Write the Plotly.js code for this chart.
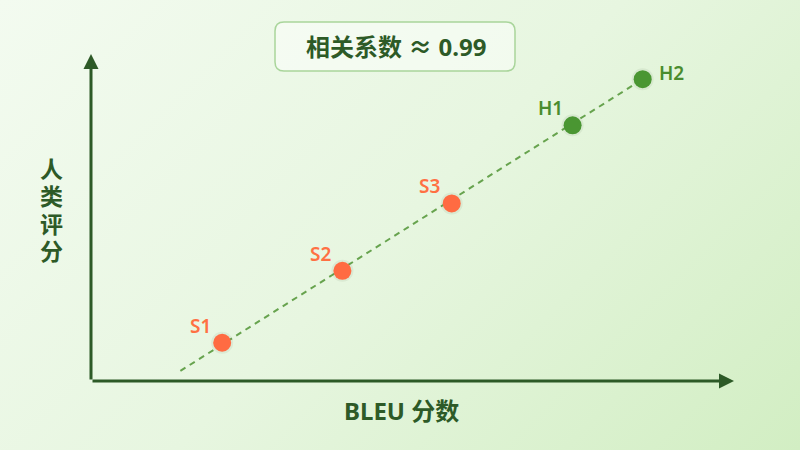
<!DOCTYPE html>
<html>
<head>
<meta charset="utf-8">
<script src="https://cdn.plot.ly/plotly-3.0.1.min.js"></script>
<style>
  html, body { margin: 0; padding: 0; }
  body {
    width: 800px; height: 450px; overflow: hidden;
    background: linear-gradient(135deg, #f3fbf0 0%, #e7f6e0 50%, #d2eec3 100%);
  }
  #chart { width: 800px; height: 450px; }
</style>
</head>
<body>
<div id="chart"></div>
<script>
  // Systems and their scores (0-100 scale)
  const systems = ["S1", "S2", "S3", "H1", "H2"];
  const bleuScore = [20.4, 39.1, 56.1, 74.9, 85.8];
  const humanScore = [11.7, 33.7, 54.3, 78.2, 92.3];
  const groups = ["s", "s", "s", "h", "h"];

  // Fitted trend line ends
  const trendX = [13.9, 85.8];
  const trendY = [3.1, 92.3];

  const titleText = "相关系数 ≈ 0.99";
  const xTitle = "BLEU 分数";
  const yTitle = "人类评分";

  const FONT = "'Noto Sans', 'Noto Sans CJK SC', sans-serif";
  const DARK = "#2d5a27";
  const ORANGE = "#ff6b42";
  const GREEN = "#4a9632";

  const traces = [
    {
      type: "scatter", mode: "lines", x: trendX, y: trendY,
      line: { color: "#67a34e", width: 2, dash: "6px,5px" },
      hoverinfo: "skip",
    },
    {
      // soft shadow under each dot
      type: "scatter", mode: "markers", x: bleuScore, y: humanScore,
      marker: { size: 22, color: "rgba(60,90,40,0.07)" },
      hoverinfo: "skip",
    },
    {
      type: "scatter", mode: "markers", x: bleuScore, y: humanScore,
      marker: { size: 18, color: groups.map((g) => g === "s" ? ORANGE : GREEN) },
    },
  ];

  // plot area: x 91..734, y 54..381 (px)
  const L = 91, R = 800 - 734, T = 54, B = 450 - 381;
  const W = 800 - L - R, H = 450 - T - B;
  const px = (x) => (x - L) / W;
  const py = (y) => (450 - B - y) / H;

  // rounded box for the title
  const bw = 120, bh = 24.5, r = 9;
  const boxPath =
    `M ${-bw + r},${-bh} L ${bw - r},${-bh} Q ${bw},${-bh} ${bw},${-bh + r} ` +
    `L ${bw},${bh - r} Q ${bw},${bh} ${bw - r},${bh} L ${-bw + r},${bh} ` +
    `Q ${-bw},${bh} ${-bw},${bh - r} L ${-bw},${-bh + r} Q ${-bw},${-bh} ${-bw + r},${-bh} Z`;

  const label = (x, y, text, size, extra = {}) => Object.assign({
    xref: "paper", yref: "paper", x: px(x), y: py(y),
    xanchor: "center", yanchor: "middle",
    text, showarrow: false,
    font: { family: FONT, size, weight: 700, color: DARK },
  }, extra);

  // point labels: up-left of each dot, last one to the right
  const pointLabels = systems.map((name, i) => {
    const last = i === systems.length - 1;
    return {
      x: bleuScore[i], y: humanScore[i], xref: "x", yref: "y",
      text: name, showarrow: false,
      xanchor: "center", yanchor: "middle",
      xshift: last ? 29 : -22, yshift: last ? 6 : 17,
      font: { family: FONT, size: 19, weight: 600, color: groups[i] === "s" ? "#ff7043" : "#4a8c2e" },
    };
  });

  // y title drawn one character per row
  const yTitleRows = yTitle.split("").map((ch, i) => label(51, 169 + i * 27.3, ch, 23, { height: 26 }));

  const layout = {
    width: 800, height: 450,
    margin: { l: L, r: R, t: T, b: B, pad: 0 },
    paper_bgcolor: "rgba(0,0,0,0)",
    plot_bgcolor: "rgba(0,0,0,0)",
    showlegend: false,
    font: { family: FONT, color: DARK },
    xaxis: { range: [0, 100], visible: false, fixedrange: true },
    yaxis: { range: [0, 100], visible: false, fixedrange: true },
    shapes: [
      {
        type: "path", xref: "paper", yref: "paper",
        xsizemode: "pixel", ysizemode: "pixel",
        xanchor: px(395), yanchor: py(46.5),
        path: boxPath,
        fillcolor: "rgba(255,255,255,0.45)",
        line: { color: "#a9d59b", width: 1.5 },
      },
    ],
    annotations: [
      label(396, 46, titleText, 24),
      // y axis with arrow
      {
        xref: "paper", yref: "paper", x: 0, y: 1, ax: 0, ay: H,
        text: "", showarrow: true, arrowhead: 2, arrowsize: 1, arrowwidth: 3,
        arrowcolor: DARK, standoff: 0, startstandoff: 0,
      },
      // x axis with arrow
      {
        xref: "paper", yref: "paper", x: 1, y: 0, ax: -W, ay: 0,
        text: "", showarrow: true, arrowhead: 2, arrowsize: 1, arrowwidth: 3,
        arrowcolor: DARK, standoff: 0, startstandoff: 0,
      },
      label(401, 411, xTitle, 24),
      ...yTitleRows,
      ...pointLabels,
    ],
  };

  Plotly.newPlot("chart", traces, layout, { displayModeBar: false, staticPlot: true });
</script>
</body>
</html>
